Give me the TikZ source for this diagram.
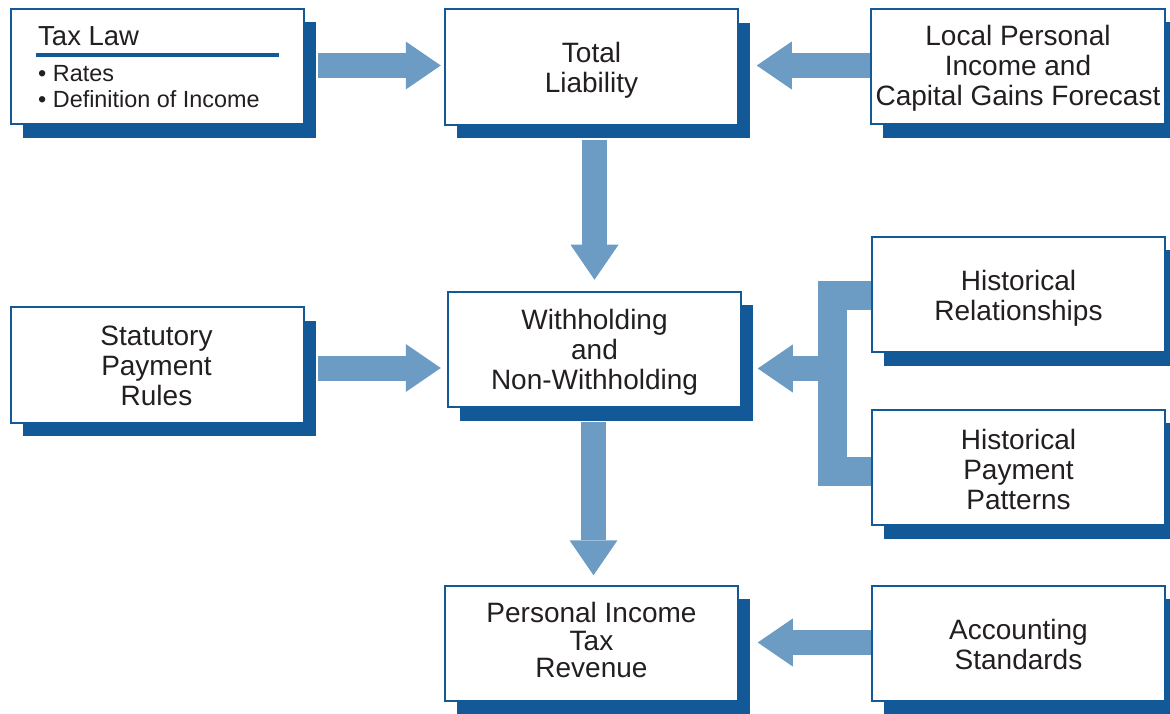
\documentclass[tikz,border=0pt]{standalone}
\usepackage{fontspec}
\setmainfont{Liberation Sans}
\usetikzlibrary{arrows.meta,shadows,calc}
\definecolor{boxblue}{HTML}{135998}
\definecolor{arrowblue}{HTML}{6C9BC3}
\definecolor{txt}{HTML}{231F20}
\begin{document}
\begin{tikzpicture}[x=1pt,y=-1pt,
  box/.style={draw=boxblue, line width=2pt, fill=white, minimum width=293.5pt, minimum height=115.5pt,
    inner sep=0pt,
    general shadow={fill=boxblue, shadow xshift=12pt, shadow yshift=-13.5pt}},
  btext/.style={inner sep=0pt, align=center, text=txt, font=\fontsize{28}{30}\selectfont},
  fat/.style={draw=arrowblue, line width=25pt, -{Triangle[length=35pt,width=48pt,line width=0pt]}},
  lbl/.style={anchor=base west, inner sep=0pt, text=txt},
]
\useasboundingbox (0,0) rectangle (1170,714);
% boxes
\node[box] (tax) at (157.5,66.5) {};
\node[box] (total) at (591.5,67) {};
\node[box] (local) at (1018,66.5) {};
\node[box] (stat) at (157.5,365) {};
\node[box] (with) at (594.5,349.5) {};
\node[box] (hist1) at (1018.5,294.5) {};
\node[box] (hist2) at (1018.5,467.5) {};
\node[box] (rev) at (591.5,643.5) {};
\node[box] (acct) at (1018.5,643.5) {};
% box texts
\node[btext] (totalt) at ($(total)+(0,3.5)$) {Total\\Liability};
\node[btext] (localt) at ($(local)+(0,1.5)$) {Local Personal\\Income and\\Capital Gains Forecast};
\node[btext] (statt) at ($(stat)+(-1,1)$) {Statutory\\Payment\\Rules};
\node[btext] (witht) at ($(with)+(0,2.5)$) {Withholding\\and\\Non-Withholding};
\node[btext] (hist1t) at ($(hist1)+(0,3.5)$) {Historical\\Relationships};
\node[btext] (hist2t) at ($(hist2)+(0,1.5)$) {Historical\\Payment\\Patterns};
\node[btext, font=\fontsize{28}{27.5}\selectfont] (revt) at ($(rev)+(0,-3.5)$) {Personal Income\\Tax\\Revenue};
\node[btext] (acctt) at ($(acct)+(0,0.5)$) {Accounting\\Standards};
% tax law contents
\node[lbl, font=\fontsize{27.5}{30}\selectfont] (taxtitle) at (38,45.5) {Tax Law};
\draw[boxblue, line width=4pt] (36,55) -- (279,55);
\node[lbl, font=\fontsize{23.4}{27}\selectfont] (rates) at (38,82) {• Rates};
\node[lbl, font=\fontsize{23.4}{27}\selectfont] (defn) at (38,108) {• Definition of Income};
% arrows
\draw[fat] ($(tax.east)+(13,-1)$) -- ($(total.west)+(-3,-1.5)$);
\draw[fat] ($(local.west)+(0,-1)$) -- ($(total.east)+(17.5,-1.5)$);
\draw[fat] ($(total.south)+(3,14)$) -- ($(with.north)+(0,-11)$);
\draw[fat] ($(stat.east)+(13,3)$) -- ($(with.west)+(-6,18.5)$);
\draw[fat] ($(with.south)+(-1,14)$) -- ($(rev.north)+(2,-9.5)$);
% bracket
\coordinate (j) at (832.5,368.5);
\draw[arrowblue, line width=29pt] ($(hist1.west)+(0,1)$) -| (j) |- ($(hist2.west)+(0,4)$);
\draw[fat] (j) -- ($(with.east |- j)+(15.5,0)$);
\draw[fat] ($(acct.west)+(0,-1)$) -- ($(rev.east)+(18.5,-1)$);
\end{tikzpicture}
\end{document}
